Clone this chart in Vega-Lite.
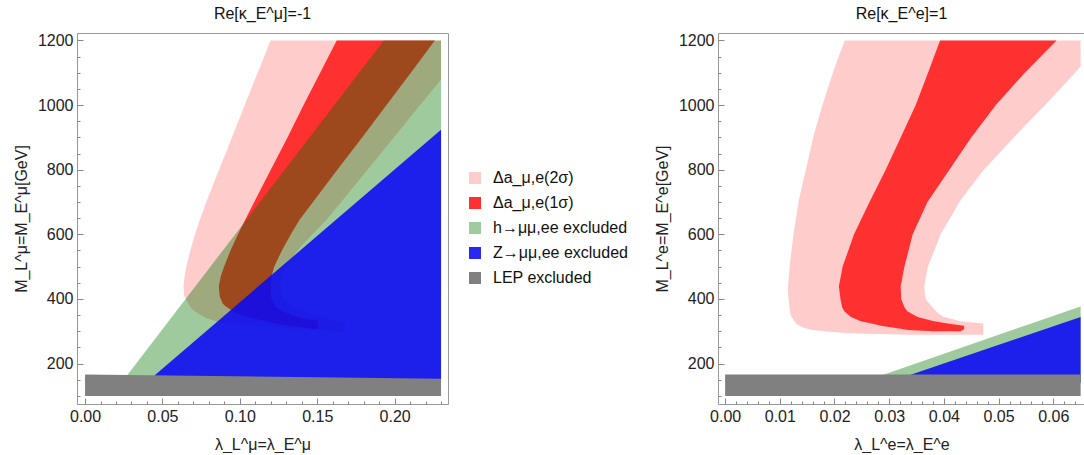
{
  "$schema": "https://vega.github.io/schema/vega-lite/v6.json",
  "padding": {"left": 12, "top": 5, "right": 0, "bottom": 0},
  "background": "white",
  "spacing": 24,
  "datasets": {
    "L": [
      {"region": "Δa_μ,e(2σ)", "M": 301, "lo": 0.162, "hi": 0.168},
      {"region": "Δa_μ,e(2σ)", "M": 304, "lo": 0.150, "hi": 0.168},
      {"region": "Δa_μ,e(2σ)", "M": 310, "lo": 0.130, "hi": 0.168},
      {"region": "Δa_μ,e(2σ)", "M": 318, "lo": 0.110, "hi": 0.168},
      {"region": "Δa_μ,e(2σ)", "M": 325, "lo": 0.0954, "hi": 0.168},
      {"region": "Δa_μ,e(2σ)", "M": 331, "lo": 0.0847, "hi": 0.163},
      {"region": "Δa_μ,e(2σ)", "M": 341, "lo": 0.0782, "hi": 0.156},
      {"region": "Δa_μ,e(2σ)", "M": 355, "lo": 0.0730, "hi": 0.145},
      {"region": "Δa_μ,e(2σ)", "M": 367, "lo": 0.0696, "hi": 0.139},
      {"region": "Δa_μ,e(2σ)", "M": 375, "lo": 0.0680, "hi": 0.135},
      {"region": "Δa_μ,e(2σ)", "M": 398, "lo": 0.0653, "hi": 0.1285},
      {"region": "Δa_μ,e(2σ)", "M": 410, "lo": 0.0640, "hi": 0.127},
      {"region": "Δa_μ,e(2σ)", "M": 440, "lo": 0.0636, "hi": 0.126},
      {"region": "Δa_μ,e(2σ)", "M": 480, "lo": 0.0646, "hi": 0.128},
      {"region": "Δa_μ,e(2σ)", "M": 520, "lo": 0.0664, "hi": 0.1325},
      {"region": "Δa_μ,e(2σ)", "M": 560, "lo": 0.0686, "hi": 0.139},
      {"region": "Δa_μ,e(2σ)", "M": 600, "lo": 0.0711, "hi": 0.147},
      {"region": "Δa_μ,e(2σ)", "M": 645, "lo": 0.0742, "hi": 0.156},
      {"region": "Δa_μ,e(2σ)", "M": 700, "lo": 0.0783, "hi": 0.1655},
      {"region": "Δa_μ,e(2σ)", "M": 800, "lo": 0.0866, "hi": 0.1825},
      {"region": "Δa_μ,e(2σ)", "M": 900, "lo": 0.0949, "hi": 0.1995},
      {"region": "Δa_μ,e(2σ)", "M": 1000, "lo": 0.1032, "hi": 0.2165},
      {"region": "Δa_μ,e(2σ)", "M": 1078, "lo": 0.1097, "hi": 0.23},
      {"region": "Δa_μ,e(2σ)", "M": 1115, "lo": 0.1128, "hi": 0.23},
      {"region": "Δa_μ,e(2σ)", "M": 1200, "lo": 0.1198, "hi": 0.23},

      {"region": "Δa_μ,e(1σ)", "M": 307, "lo": 0.148, "hi": 0.1504},
      {"region": "Δa_μ,e(1σ)", "M": 313.5, "lo": 0.1386, "hi": 0.1504},
      {"region": "Δa_μ,e(1σ)", "M": 320, "lo": 0.128, "hi": 0.1504},
      {"region": "Δa_μ,e(1σ)", "M": 331, "lo": 0.117, "hi": 0.1504},
      {"region": "Δa_μ,e(1σ)", "M": 333, "lo": 0.1155, "hi": 0.149},
      {"region": "Δa_μ,e(1σ)", "M": 341, "lo": 0.108, "hi": 0.139},
      {"region": "Δa_μ,e(1σ)", "M": 345, "lo": 0.105, "hi": 0.1365},
      {"region": "Δa_μ,e(1σ)", "M": 357, "lo": 0.0975, "hi": 0.130},
      {"region": "Δa_μ,e(1σ)", "M": 362, "lo": 0.0954, "hi": 0.1275},
      {"region": "Δa_μ,e(1σ)", "M": 377, "lo": 0.091, "hi": 0.123},
      {"region": "Δa_μ,e(1σ)", "M": 385, "lo": 0.089, "hi": 0.1218},
      {"region": "Δa_μ,e(1σ)", "M": 408, "lo": 0.087, "hi": 0.120},
      {"region": "Δa_μ,e(1σ)", "M": 439, "lo": 0.0864, "hi": 0.120},
      {"region": "Δa_μ,e(1σ)", "M": 470, "lo": 0.0877, "hi": 0.1205},
      {"region": "Δa_μ,e(1σ)", "M": 500, "lo": 0.0898, "hi": 0.1222},
      {"region": "Δa_μ,e(1σ)", "M": 550, "lo": 0.0940, "hi": 0.1272},
      {"region": "Δa_μ,e(1σ)", "M": 600, "lo": 0.0988, "hi": 0.1330},
      {"region": "Δa_μ,e(1σ)", "M": 645, "lo": 0.1035, "hi": 0.1386},
      {"region": "Δa_μ,e(1σ)", "M": 700, "lo": 0.1093, "hi": 0.1473},
      {"region": "Δa_μ,e(1σ)", "M": 800, "lo": 0.1200, "hi": 0.1630},
      {"region": "Δa_μ,e(1σ)", "M": 900, "lo": 0.1308, "hi": 0.1790},
      {"region": "Δa_μ,e(1σ)", "M": 1000, "lo": 0.1412, "hi": 0.1948},
      {"region": "Δa_μ,e(1σ)", "M": 1100, "lo": 0.1519, "hi": 0.2105},
      {"region": "Δa_μ,e(1σ)", "M": 1200, "lo": 0.1626, "hi": 0.226},

      {"region": "h→μμ,ee excluded", "M": 140, "lo": 0.0234, "hi": 0.23},
      {"region": "h→μμ,ee excluded", "M": 1200, "lo": 0.193, "hi": 0.23},

      {"region": "Z→μμ,ee excluded", "M": 140, "lo": 0.0392, "hi": 0.23},
      {"region": "Z→μμ,ee excluded", "M": 924, "lo": 0.23, "hi": 0.23},

      {"region": "LEP excluded", "M": 100, "lo": 0, "hi": 0.23},
      {"region": "LEP excluded", "M": 153, "lo": 0, "hi": 0.23},
      {"region": "LEP excluded", "M": 166, "lo": 0, "hi": 0.0}
    ],
    "R": [
      {"region": "Δa_μ,e(2σ)", "M": 289.5, "lo": 0.034, "hi": 0.0472},
      {"region": "Δa_μ,e(2σ)", "M": 292, "lo": 0.026, "hi": 0.0472},
      {"region": "Δa_μ,e(2σ)", "M": 295, "lo": 0.022, "hi": 0.0472},
      {"region": "Δa_μ,e(2σ)", "M": 300, "lo": 0.0182, "hi": 0.0472},
      {"region": "Δa_μ,e(2σ)", "M": 305, "lo": 0.0157, "hi": 0.0472},
      {"region": "Δa_μ,e(2σ)", "M": 312, "lo": 0.0142, "hi": 0.0472},
      {"region": "Δa_μ,e(2σ)", "M": 320, "lo": 0.0133, "hi": 0.0472},
      {"region": "Δa_μ,e(2σ)", "M": 324, "lo": 0.0130, "hi": 0.0472},
      {"region": "Δa_μ,e(2σ)", "M": 331, "lo": 0.0127, "hi": 0.043},
      {"region": "Δa_μ,e(2σ)", "M": 346, "lo": 0.0121, "hi": 0.0398},
      {"region": "Δa_μ,e(2σ)", "M": 357, "lo": 0.0119, "hi": 0.0388},
      {"region": "Δa_μ,e(2σ)", "M": 398, "lo": 0.0116, "hi": 0.0367},
      {"region": "Δa_μ,e(2σ)", "M": 420, "lo": 0.0115, "hi": 0.0365},
      {"region": "Δa_μ,e(2σ)", "M": 439, "lo": 0.0115, "hi": 0.0364},
      {"region": "Δa_μ,e(2σ)", "M": 501, "lo": 0.0118, "hi": 0.0371},
      {"region": "Δa_μ,e(2σ)", "M": 600, "lo": 0.0125, "hi": 0.0394},
      {"region": "Δa_μ,e(2σ)", "M": 707, "lo": 0.0135, "hi": 0.0431},
      {"region": "Δa_μ,e(2σ)", "M": 800, "lo": 0.01475, "hi": 0.0473},
      {"region": "Δa_μ,e(2σ)", "M": 913, "lo": 0.0163, "hi": 0.0535},
      {"region": "Δa_μ,e(2σ)", "M": 1000, "lo": 0.0178, "hi": 0.0585},
      {"region": "Δa_μ,e(2σ)", "M": 1100, "lo": 0.0197, "hi": 0.0640},
      {"region": "Δa_μ,e(2σ)", "M": 1120, "lo": 0.0201, "hi": 0.065},
      {"region": "Δa_μ,e(2σ)", "M": 1200, "lo": 0.02187, "hi": 0.065},

      {"region": "Δa_μ,e(1σ)", "M": 300, "lo": 0.0380, "hi": 0.0430},
      {"region": "Δa_μ,e(1σ)", "M": 304, "lo": 0.0335, "hi": 0.0435},
      {"region": "Δa_μ,e(1σ)", "M": 308, "lo": 0.0321, "hi": 0.0437},
      {"region": "Δa_μ,e(1σ)", "M": 317, "lo": 0.0285, "hi": 0.0437},
      {"region": "Δa_μ,e(1σ)", "M": 323, "lo": 0.0270, "hi": 0.0410},
      {"region": "Δa_μ,e(1σ)", "M": 331, "lo": 0.0248, "hi": 0.0382},
      {"region": "Δa_μ,e(1σ)", "M": 344, "lo": 0.0230, "hi": 0.0352},
      {"region": "Δa_μ,e(1σ)", "M": 362, "lo": 0.0218, "hi": 0.0333},
      {"region": "Δa_μ,e(1σ)", "M": 374, "lo": 0.0214, "hi": 0.0328},
      {"region": "Δa_μ,e(1σ)", "M": 398, "lo": 0.0211, "hi": 0.0322},
      {"region": "Δa_μ,e(1σ)", "M": 439, "lo": 0.0208, "hi": 0.0321},
      {"region": "Δa_μ,e(1σ)", "M": 501, "lo": 0.0215, "hi": 0.0328},
      {"region": "Δa_μ,e(1σ)", "M": 600, "lo": 0.02357, "hi": 0.0343},
      {"region": "Δa_μ,e(1σ)", "M": 700, "lo": 0.0264, "hi": 0.0370},
      {"region": "Δa_μ,e(1σ)", "M": 800, "lo": 0.02936, "hi": 0.0410},
      {"region": "Δa_μ,e(1σ)", "M": 900, "lo": 0.0321, "hi": 0.0450},
      {"region": "Δa_μ,e(1σ)", "M": 1000, "lo": 0.03485, "hi": 0.0495},
      {"region": "Δa_μ,e(1σ)", "M": 1100, "lo": 0.0371, "hi": 0.0548},
      {"region": "Δa_μ,e(1σ)", "M": 1200, "lo": 0.0393, "hi": 0.0606},

      {"region": "h→μμ,ee excluded", "M": 140, "lo": 0.0246, "hi": 0.065},
      {"region": "h→μμ,ee excluded", "M": 377, "lo": 0.065, "hi": 0.065},

      {"region": "Z→μμ,ee excluded", "M": 140, "lo": 0.0295, "hi": 0.065},
      {"region": "Z→μμ,ee excluded", "M": 344.5, "lo": 0.065, "hi": 0.065},

      {"region": "LEP excluded", "M": 100, "lo": 0, "hi": 0.065},
      {"region": "LEP excluded", "M": 166, "lo": 0, "hi": 0.065}
    ]
  },
  "hconcat": [
    {
      "width": 371,
      "height": 371,
      "title": {"text": "Re[κ_E^μ]=-1"},
      "data": {"name": "L"},
      "encoding": {
        "y": {"field": "M", "type": "quantitative",
              "scale": {"domain": [75, 1223], "nice": false, "zero": false},
              "axis": {"title": "M_L^μ=M_E^μ[GeV]",
                       "values": [100, 150, 200, 250, 300, 350, 400, 450, 500, 550, 600, 650, 700, 750, 800, 850, 900, 950, 1000, 1050, 1100, 1150, 1200],
                       "labelExpr": "datum.value % 200 === 0 ? format(datum.value, 'd') : ''",
                       "tickSize": {"condition": {"test": "datum.value % 200 === 0", "value": -6}, "value": -3}}},
        "x": {"field": "lo", "type": "quantitative",
              "scale": {"domain": [-0.0052, 0.2345], "nice": false, "zero": false},
              "axis": {"title": "λ_L^μ=λ_E^μ",
                       "values": [0, 0.01, 0.02, 0.03, 0.04, 0.05, 0.06, 0.07, 0.08, 0.09, 0.1, 0.11, 0.12, 0.13, 0.14, 0.15, 0.16, 0.17, 0.18, 0.19, 0.2, 0.21, 0.22, 0.23],
                       "labelExpr": "abs(datum.value * 20 - round(datum.value * 20)) < 0.000001 ? format(datum.value, '.2f') : ''",
                       "tickSize": {"condition": {"test": "abs(datum.value * 20 - round(datum.value * 20)) < 0.000001", "value": -6}, "value": -3}}},
        "x2": {"field": "hi"},
        "fill": {"field": "region", "type": "nominal",
                 "scale": {"domain": ["Δa_μ,e(2σ)", "Δa_μ,e(1σ)", "h→μμ,ee excluded", "Z→μμ,ee excluded", "LEP excluded"],
                           "range": ["#ffcccc", "#ff3030", "#9ecc9e", "#2828f0", "#808080"]},
                 "legend": {"title": null, "orient": "none", "legendX": 390, "legendY": 137}}
      },
      "layer": [
        {"transform": [{"filter": {"field": "region", "equal": "Δa_μ,e(2σ)"}}],
         "mark": {"type": "area", "orient": "horizontal"}},
        {"transform": [{"filter": {"field": "region", "equal": "Δa_μ,e(1σ)"}}],
         "mark": {"type": "area", "orient": "horizontal"}},
        {"transform": [{"filter": {"field": "region", "equal": "h→μμ,ee excluded"}}],
         "mark": {"type": "area", "orient": "horizontal", "opacity": 0.38},
         "encoding": {"fill": {"value": "#007300"}}},
        {"transform": [{"filter": {"field": "region", "equal": "Z→μμ,ee excluded"}}],
         "mark": {"type": "area", "orient": "horizontal", "opacity": 0.88},
         "encoding": {"fill": {"value": "#0a08f5"}}},
        {"transform": [{"filter": {"field": "region", "equal": "LEP excluded"}}],
         "mark": {"type": "area", "orient": "horizontal"}}
      ]
    },
    {
      "width": 367,
      "height": 371,
      "title": {"text": "Re[κ_E^e]=1"},
      "data": {"name": "R"},
      "encoding": {
        "y": {"field": "M", "type": "quantitative",
              "scale": {"domain": [75, 1223], "nice": false, "zero": false},
              "axis": {"title": "M_L^e=M_E^e[GeV]",
                       "values": [100, 150, 200, 250, 300, 350, 400, 450, 500, 550, 600, 650, 700, 750, 800, 850, 900, 950, 1000, 1050, 1100, 1150, 1200],
                       "labelExpr": "datum.value % 200 === 0 ? format(datum.value, 'd') : ''",
                       "tickSize": {"condition": {"test": "datum.value % 200 === 0", "value": -6}, "value": -3}}},
        "x": {"field": "lo", "type": "quantitative",
              "scale": {"domain": [-0.0013, 0.0658], "nice": false, "zero": false},
              "axis": {"title": "λ_L^e=λ_E^e",
                       "values": [0, 0.002, 0.004, 0.006, 0.008, 0.01, 0.012, 0.014, 0.016, 0.018, 0.02, 0.022, 0.024, 0.026, 0.028, 0.03, 0.032, 0.034, 0.036, 0.038, 0.04, 0.042, 0.044, 0.046, 0.048, 0.05, 0.052, 0.054, 0.056, 0.058, 0.06, 0.062, 0.064],
                       "labelExpr": "abs(datum.value * 100 - round(datum.value * 100)) < 0.000001 ? format(datum.value, '.2f') : ''",
                       "tickSize": {"condition": {"test": "abs(datum.value * 100 - round(datum.value * 100)) < 0.000001", "value": -6}, "value": -3}}},
        "x2": {"field": "hi"},
        "fill": {"field": "region", "type": "nominal",
                 "scale": {"domain": ["Δa_μ,e(2σ)", "Δa_μ,e(1σ)", "h→μμ,ee excluded", "Z→μμ,ee excluded", "LEP excluded"],
                           "range": ["#ffcccc", "#ff3030", "#9ecc9e", "#2828f0", "#808080"]},
                 "legend": null}
      },
      "layer": [
        {"transform": [{"filter": {"field": "region", "equal": "Δa_μ,e(2σ)"}}],
         "mark": {"type": "area", "orient": "horizontal"}},
        {"transform": [{"filter": {"field": "region", "equal": "Δa_μ,e(1σ)"}}],
         "mark": {"type": "area", "orient": "horizontal"}},
        {"transform": [{"filter": {"field": "region", "equal": "h→μμ,ee excluded"}}],
         "mark": {"type": "area", "orient": "horizontal", "opacity": 0.38},
         "encoding": {"fill": {"value": "#007300"}}},
        {"transform": [{"filter": {"field": "region", "equal": "Z→μμ,ee excluded"}}],
         "mark": {"type": "area", "orient": "horizontal", "opacity": 0.88},
         "encoding": {"fill": {"value": "#0a08f5"}}},
        {"transform": [{"filter": {"field": "region", "equal": "LEP excluded"}}],
         "mark": {"type": "area", "orient": "horizontal"}}
      ]
    }
  ],
  "resolve": {"scale": {"fill": "independent"}, "legend": {"fill": "independent"}},
  "config": {
    "font": "Liberation Sans",
    "view": {"stroke": "#999999", "strokeWidth": 1},
    "title": {"fontSize": 16, "fontWeight": "normal", "color": "#111111", "offset": 10},
    "axis": {
      "grid": false,
      "domain": false,
      "tickSize": -6,
      "tickColor": "#888888",
      "labelPadding": 10,
      "labelOverlap": false,
      "labelFlush": false,
      "labelFontSize": 16,
      "titleFontSize": 16,
      "titleFontWeight": "normal",
      "labelColor": "#222222",
      "titleColor": "#222222",
      "titlePadding": 8
    },
    "axisX": {"titlePadding": 9},
    "legend": {
      "labelFontSize": 16,
      "labelColor": "#111111",
      "symbolType": "square",
      "symbolSize": 144,
      "symbolStrokeWidth": 0,
      "symbolOpacity": 1,
      "rowPadding": 9,
      "labelOffset": 10,
      "padding": 0
    }
  }
}
